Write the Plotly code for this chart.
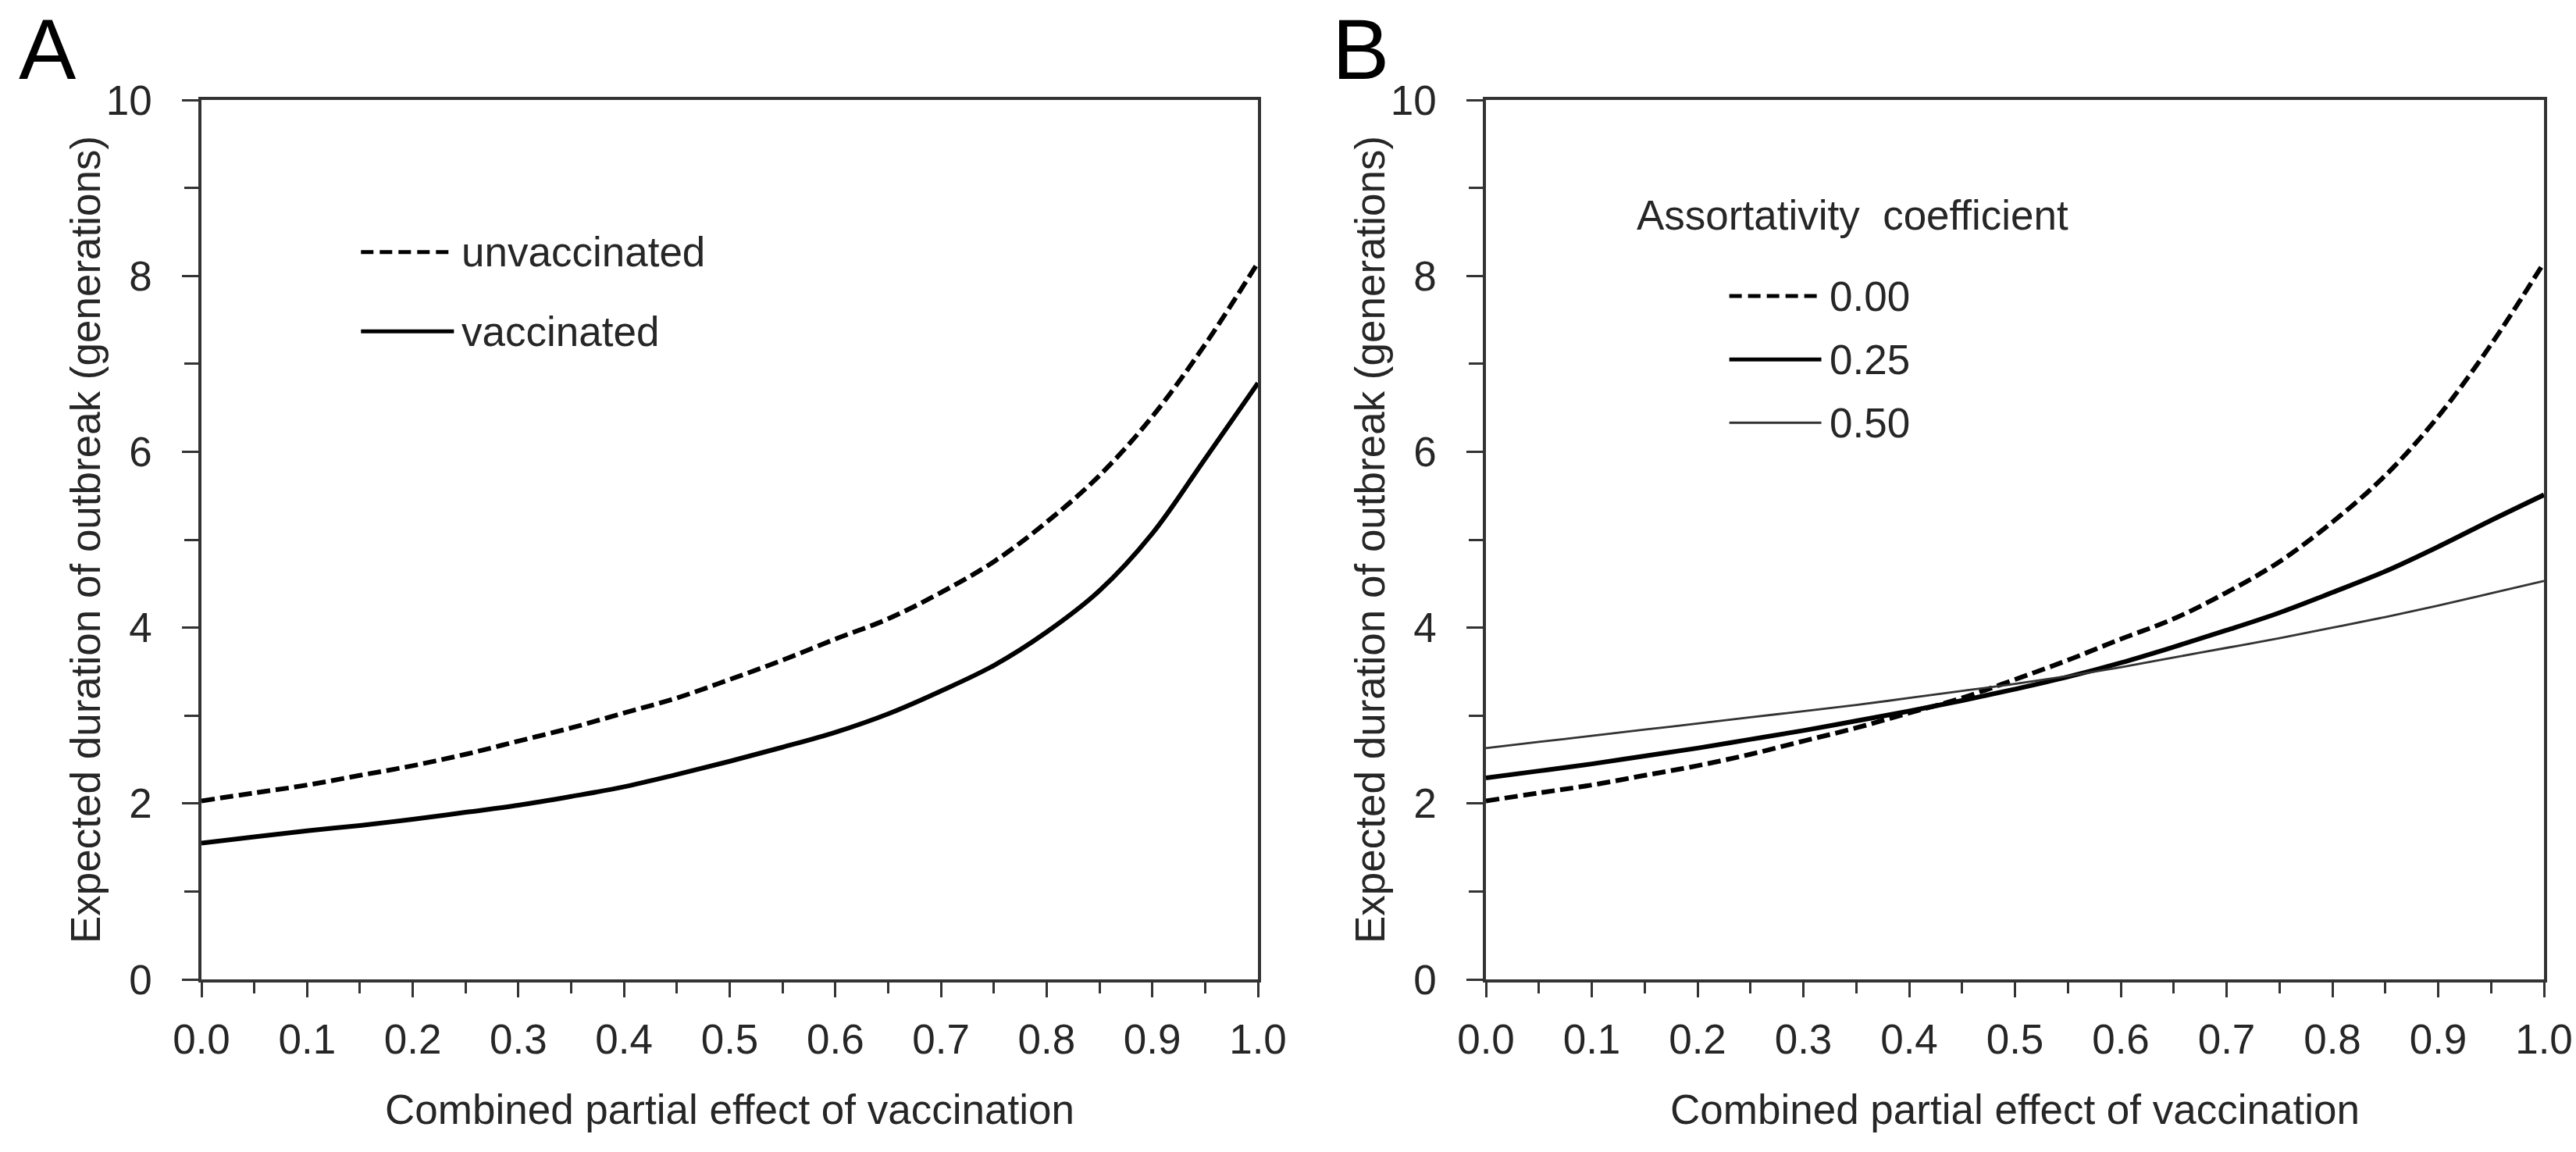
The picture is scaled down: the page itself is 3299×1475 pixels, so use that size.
import plotly.graph_objects as go

# Data
effect = [0.00, 0.05, 0.10, 0.15, 0.20, 0.25, 0.30, 0.35, 0.40, 0.45, 0.50,
          0.55, 0.60, 0.65, 0.70, 0.75, 0.80, 0.85, 0.90, 0.95, 1.00]

unvaccinated = [2.03, 2.12, 2.21, 2.32, 2.43, 2.56, 2.71, 2.86, 3.03, 3.20, 3.41,
                3.63, 3.87, 4.10, 4.40, 4.75, 5.20, 5.73, 6.40, 7.22, 8.15]
vaccinated = [1.55, 1.62, 1.69, 1.75, 1.82, 1.90, 1.98, 2.08, 2.19, 2.33, 2.48,
              2.64, 2.81, 3.02, 3.28, 3.57, 3.95, 4.42, 5.07, 5.92, 6.78]

assort_000 = unvaccinated
assort_025 = [2.29, 2.37, 2.45, 2.54, 2.63, 2.73, 2.83, 2.94, 3.05, 3.17, 3.30,
              3.44, 3.60, 3.78, 3.97, 4.17, 4.40, 4.64, 4.92, 5.22, 5.51]
assort_050 = [2.63, 2.70, 2.77, 2.84, 2.91, 2.98, 3.05, 3.12, 3.20, 3.28, 3.36,
              3.45, 3.55, 3.66, 3.77, 3.88, 4.00, 4.12, 4.25, 4.39, 4.53]

x_ticks = [0.0, 0.1, 0.2, 0.3, 0.4, 0.5, 0.6, 0.7, 0.8, 0.9, 1.0]
x_ticktext = ["0.0", "0.1", "0.2", "0.3", "0.4", "0.5", "0.6", "0.7", "0.8", "0.9", "1.0"]
y_ticks = [0, 2, 4, 6, 8, 10]

x_title = "Combined partial effect of vaccination"
y_title = "Expected duration of outbreak (generations)"

FONT = "Liberation Sans, Arial, sans-serif"
TXT = "#262626"
AX = "#333333"
W, H = 3299, 1475
DASH = "17px,7px"

fig = go.Figure()

# Panel A
fig.add_trace(go.Scatter(x=effect, y=unvaccinated, mode="lines", xaxis="x", yaxis="y",
                         line=dict(color="black", width=6, dash=DASH, shape="spline"),
                         showlegend=False))
fig.add_trace(go.Scatter(x=effect, y=vaccinated, mode="lines", xaxis="x", yaxis="y",
                         line=dict(color="black", width=6, shape="spline"),
                         showlegend=False))

# Panel B
fig.add_trace(go.Scatter(x=effect, y=assort_000, mode="lines", xaxis="x2", yaxis="y2",
                         line=dict(color="black", width=6, dash=DASH, shape="spline"),
                         showlegend=False))
fig.add_trace(go.Scatter(x=effect, y=assort_025, mode="lines", xaxis="x2", yaxis="y2",
                         line=dict(color="black", width=6, shape="spline"),
                         showlegend=False))
fig.add_trace(go.Scatter(x=effect, y=assort_050, mode="lines", xaxis="x2", yaxis="y2",
                         line=dict(color="#333333", width=2.8, shape="spline"),
                         showlegend=False))

xax = dict(range=[0, 1], tickvals=x_ticks, ticktext=x_ticktext, automargin=False,
           ticks="outside", ticklen=19, tickwidth=3, tickcolor=AX, ticklabelstandoff=9,
           showline=True, linewidth=3.5, linecolor=AX, mirror=True,
           showgrid=False, zeroline=False,
           minor=dict(dtick=0.05, tick0=0, ticks="outside", ticklen=14, tickwidth=3,
                      tickcolor=AX, showgrid=False),
           tickfont=dict(size=53, color=TXT, family=FONT),
           title=dict(text=x_title, font=dict(size=53, color=TXT, family=FONT), standoff=44))
yax = dict(range=[0, 10], tickvals=y_ticks, automargin=False,
           ticks="outside", ticklen=21, tickwidth=3, tickcolor=AX, ticklabelstandoff=28,
           showline=True, linewidth=3.5, linecolor=AX, mirror=True,
           showgrid=False, zeroline=False,
           minor=dict(dtick=1, tick0=0, ticks="outside", ticklen=18, tickwidth=3,
                      tickcolor=AX, showgrid=False),
           tickfont=dict(size=53, color=TXT, family=FONT))

fig.update_layout(
    template="none",
    width=W, height=H,
    margin=dict(l=0, r=0, t=0, b=0, autoexpand=False),
    plot_bgcolor="white", paper_bgcolor="white",
    font=dict(family=FONT, color=TXT),
    xaxis=dict(xax, domain=[258 / W, 1611 / W], anchor="y"),
    yaxis=dict(yax, domain=[1 - 1254 / H, 1 - 128 / H], anchor="x"),
    xaxis2=dict(xax, domain=[1903 / W, 3258 / W], anchor="y2"),
    yaxis2=dict(yax, domain=[1 - 1254 / H, 1 - 128 / H], anchor="x2"),
)

# Y axis titles
for xc in (110, 1755):
    fig.add_annotation(text=y_title, xref="paper", yref="paper", x=xc / W, y=1 - 691 / H,
                       xanchor="center", yanchor="middle", textangle=-90, showarrow=False,
                       font=dict(size=53, color=TXT, family=FONT))

# Panel letters
fig.add_annotation(text="A", xref="paper", yref="paper", x=61 / W, y=1.0,
                   xanchor="center", yanchor="top", showarrow=False, borderpad=0,
                   font=dict(size=110, color="black", family=FONT))
fig.add_annotation(text="B", xref="paper", yref="paper", x=1743 / W, y=1.0,
                   xanchor="center", yanchor="top", showarrow=False, borderpad=0,
                   font=dict(size=110, color="black", family=FONT))

# Legend A
leg_font = dict(size=53, color=TXT, family=FONT)
fig.add_shape(type="line", xref="x", yref="y", x0=0.151, x1=0.239, y0=8.27, y1=8.27,
              line=dict(color="black", width=5, dash="16px,8px"))
fig.add_shape(type="line", xref="x", yref="y", x0=0.151, x1=0.239, y0=7.37, y1=7.37,
              line=dict(color="black", width=5))
fig.add_annotation(text="unvaccinated", xref="x", yref="y", x=0.245, y=8.27,
                   xanchor="left", yanchor="middle", showarrow=False, font=leg_font)
fig.add_annotation(text="vaccinated", xref="x", yref="y", x=0.245, y=7.37,
                   xanchor="left", yanchor="middle", showarrow=False, font=leg_font)

# Legend B
fig.add_annotation(text="Assortativity  coefficient", xref="x2", yref="y2", x=0.141, y=8.69,
                   xanchor="left", yanchor="middle", showarrow=False, font=leg_font)
leg_b = [("0.00", 7.77, dict(color="black", width=5, dash="16px,8px")),
         ("0.25", 7.05, dict(color="black", width=5)),
         ("0.50", 6.33, dict(color="#333333", width=2.8))]
for label, yy, ln in leg_b:
    fig.add_shape(type="line", xref="x2", yref="y2", x0=0.230, x1=0.317, y0=yy, y1=yy, line=ln)
    fig.add_annotation(text=label, xref="x2", yref="y2", x=0.323, y=yy,
                       xanchor="left", yanchor="middle", showarrow=False, font=leg_font)

# page has a default 8px body margin; drop it so the figure fills the window exactly
fig.write_html("out.html", config={"displayModeBar": False},
               post_script="document.body.style.margin='0';")
